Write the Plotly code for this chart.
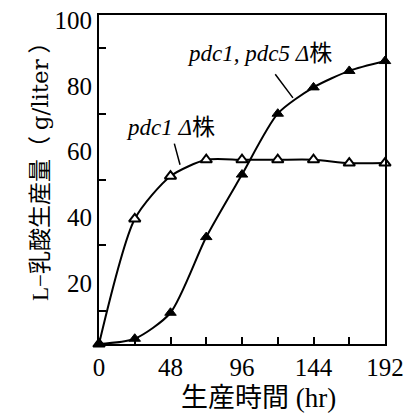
import plotly.graph_objects as go

hours = [0, 24, 48, 72, 96, 120, 144, 168, 192]
pdc1 = [0, 38, 51, 56, 56, 56, 56, 55, 55]
pdc1_pdc5 = [0, 1.6, 9.5, 32.5, 51.5, 70, 78, 83, 86]

x_ticks = [0, 48, 96, 144, 192]
y_ticks = [20, 40, 60, 80, 100]
y_minor = [10, 30, 50, 70, 90]

FONT = "Liberation Serif, Noto Sans CJK JP"

fig = go.Figure()
fig.add_trace(go.Scatter(
    x=hours, y=pdc1, mode="lines+markers",
    line=dict(color="black", width=2, shape="spline", smoothing=0.7),
    marker=dict(symbol="triangle-up", size=10, color="white",
                line=dict(color="black", width=2)),
    cliponaxis=False, showlegend=False))
fig.add_trace(go.Scatter(
    x=hours, y=pdc1_pdc5, mode="lines+markers",
    line=dict(color="black", width=2, shape="spline", smoothing=0.7),
    marker=dict(symbol="triangle-up", size=10, color="black",
                line=dict(color="black", width=1)),
    cliponaxis=False, showlegend=False))

fig.add_annotation(x=54.4, y=54.5, ax=-10, ay=-37, text="<i>pdc1 Δ</i>株",
                   showarrow=True, arrowhead=0, arrowwidth=1.5, arrowcolor="black",
                   standoff=0, startstandoff=2,
                   font=dict(family=FONT, size=23, color="black"))
fig.add_annotation(x=130.2, y=74.8, ax=-33, ay=-44, text="<i>pdc1, pdc5 Δ</i>株",
                   showarrow=True, arrowhead=0, arrowwidth=1.5, arrowcolor="black",
                   standoff=0, startstandoff=8,
                   font=dict(family=FONT, size=23, color="black"))

# axis titles placed as annotations for exact positioning
fig.add_annotation(xref="paper", yref="paper", x=0.556, y=-0.164,
                   xanchor="center", yanchor="middle", showarrow=False,
                   text="生産時間 (hr)", font=dict(family=FONT, size=27, color="black"))
y_title = "L−乳酸生産量（ <span style=\"font-family:'DejaVu Serif'\">g/liter</span> ）"
fig.add_annotation(xref="paper", yref="paper", x=-0.206, y=0.541,
                   xanchor="center", yanchor="middle", showarrow=False, textangle=-90,
                   text=y_title, font=dict(family=FONT, size=23, color="black"))

fig.update_layout(
    width=407, height=416,
    margin=dict(l=99, r=22, t=15, b=72),
    paper_bgcolor="white", plot_bgcolor="white",
    font=dict(family=FONT, size=25, color="black"),
    xaxis=dict(range=[0, 192], tickvals=x_ticks, ticktext=[str(v) for v in x_ticks],
               ticks="inside", ticklen=7, tickwidth=1.5, tickcolor="black",
               minor=dict(dtick=24, tick0=0, ticks="inside", ticklen=7, tickwidth=1.5, tickcolor="black"),
               showline=True, linecolor="black", linewidth=2, mirror=True,
               showgrid=False, zeroline=False, automargin=False,
               tickfont=dict(size=25)),
    yaxis=dict(range=[0, 100], tickvals=y_ticks, ticktext=[str(v) for v in y_ticks],
               ticks="", ticklabelshift=5,
               minor=dict(tickvals=y_minor, ticks="inside", ticklen=7, tickwidth=1.5, tickcolor="black"),
               showline=True, linecolor="black", linewidth=2, mirror=True,
               showgrid=False, zeroline=False, automargin=False,
               tickfont=dict(size=25)),
)

fig.write_html("out.html", config={"displayModeBar": False},
               post_script="document.body.style.margin='0';")
